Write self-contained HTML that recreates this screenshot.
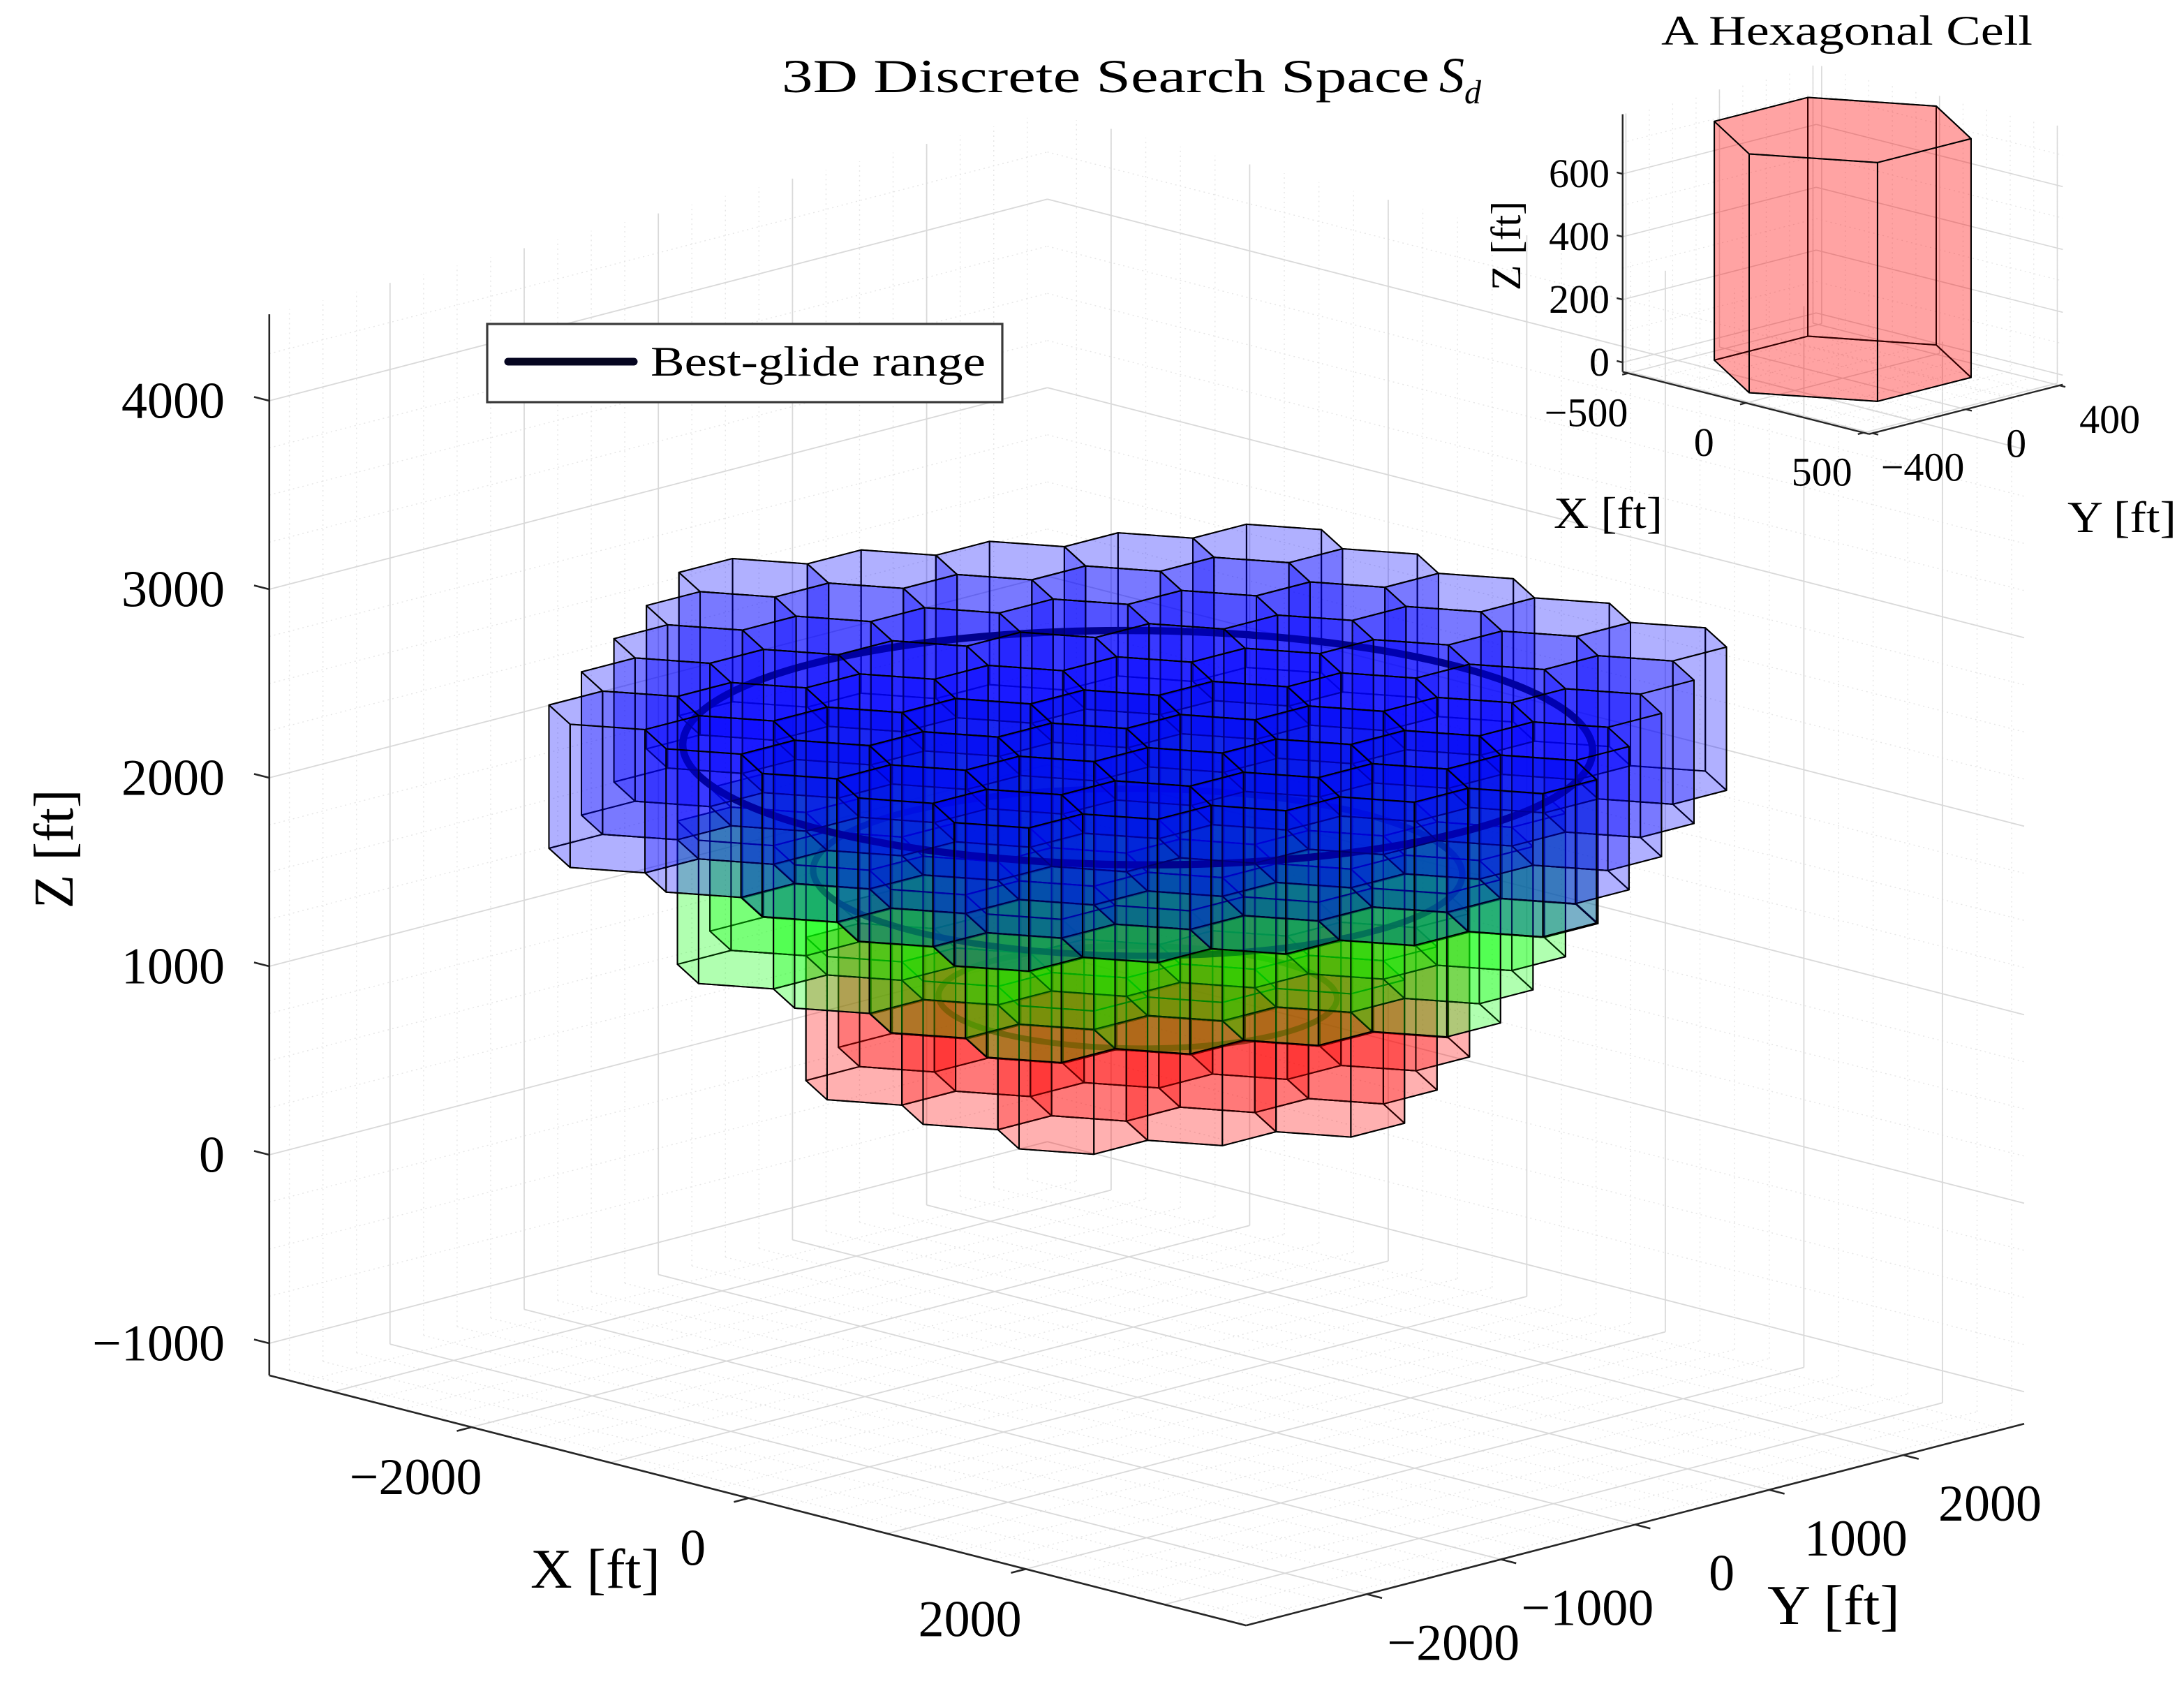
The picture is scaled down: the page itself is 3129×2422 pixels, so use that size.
<!DOCTYPE html>
<html><head><meta charset="utf-8"><title>3D Discrete Search Space</title>
<style>
html,body{margin:0;padding:0;background:#fff;}
svg{display:block;font-family:"Liberation Serif","DejaVu Serif",serif;}
</style></head>
<body>
<svg id="fig" xmlns="http://www.w3.org/2000/svg" width="3129" height="2422" viewBox="0 0 1564.5 1211">
  <rect x="0" y="0" width="1564.5" height="1211" fill="#fff"/>
  <g id="mainGrid"></g>
  <g id="mainCells"></g>
  <g id="mainAxes"></g>
  <g id="insetGrid"></g>
  <g id="insetCell"></g>
  <g id="insetAxes"></g>

  <text x="560" y="66" font-size="34" textLength="464" lengthAdjust="spacingAndGlyphs">3D Discrete Search Space</text>
  <text x="1031" y="66" font-size="36" font-style="italic">S<tspan font-size="24" dy="8">d</tspan></text>

  <text x="1323" y="32" font-size="30" text-anchor="middle" textLength="266" lengthAdjust="spacingAndGlyphs">A Hexagonal Cell</text>

  <g>
    <rect x="349" y="232" width="369" height="56" fill="#fff" stroke="#3a3a3a" stroke-width="1.6"/>
    <line x1="364" y1="259" x2="454" y2="259" stroke="#050520" stroke-width="5.5" stroke-linecap="round"/>
    <text x="466" y="269" font-size="30" textLength="240" lengthAdjust="spacingAndGlyphs">Best-glide range</text>
  </g>

  <text x="380" y="1137" font-size="40" textLength="93" lengthAdjust="spacingAndGlyphs">X [ft]</text>
  <text x="1266" y="1163" font-size="40" textLength="95" lengthAdjust="spacingAndGlyphs">Y [ft]</text>
  <text x="0" y="0" font-size="40" text-anchor="middle" transform="translate(52,608) rotate(-90)">Z [ft]</text>

  <text x="1113" y="378" font-size="32" textLength="78" lengthAdjust="spacingAndGlyphs">X [ft]</text>
  <text x="1481" y="381" font-size="32" textLength="78" lengthAdjust="spacingAndGlyphs">Y [ft]</text>
  <text x="0" y="0" font-size="30" text-anchor="middle" transform="translate(1089,176) rotate(-90)">Z [ft]</text>
</svg>
<script>
// ---------- data ----------
const layerBases = [573, 1235, 1896];          // z of layer bottoms [ft]
const layerRings = [2, 3, 4];                   // hex rings per layer
const layerHeight = 760;                        // cell height [ft]
const layerColors = ['#ff0000', '#00ff00', '#0000ff'];
const circleZ = [953, 1615, 2276];              // best-glide circle altitudes
const circleR = [1033, 1683, 2359];             // best-glide circle radii
const hexR = 400;
const xTicks = [-2000, 0, 2000];
const yTicks = [-2000, -1000, 0, 1000, 2000];
const zTicks = [-1000, 0, 1000, 2000, 3000, 4000];
const xTickLabels = ['\u22122000', '0', '2000'];
const yTickLabels = ['\u22122000', '\u22121000', '0', '1000', '2000'];
const zTickLabels = ['\u22121000', '0', '1000', '2000', '3000', '4000'];
const insetXTicks = [-500, 0, 500];
const insetYTicks = [-400, 0, 400];
const insetZTicks = [0, 200, 400, 600];
const insetXTickLabels = ['\u2212500', '0', '500'];
const insetYTickLabels = ['\u2212400', '0', '400'];
const insetZTickLabels = ['0', '200', '400', '600'];
const faceAlpha = 0.17;

// ---------- projections ----------
const NS = 'http://www.w3.org/2000/svg';
const XR = [-3460, 3590], YR = [-2900, 2900], ZR = [-1170, 4459];
function P(x, y, z) { return [815 + 0.09925 * x + 0.0961 * y, 842.7 + 0.0254 * x - 0.0249 * y - 0.135 * z]; }
const IXR = [-523, 523], IYR = [-414, 414], IZR = [-30, 790];
function P2(x, y, z) { return [1320 + 0.1688 * x + 0.1675 * y, 264.1 + 0.0426 * x - 0.0428 * y - 0.225 * z]; }

function mk(tag, attrs, parent) {
  const e = document.createElementNS(NS, tag);
  for (const k in attrs) e.setAttribute(k, attrs[k]);
  parent.appendChild(e);
  return e;
}
function line(par, a, b, stroke, w, dash, name) {
  const e = mk('line', {x1: a[0], y1: a[1], x2: b[0], y2: b[1], stroke: stroke, 'stroke-width': w}, par);
  if (dash) e.setAttribute('stroke-dasharray', dash);
  
  
  return e;
}
function ptsStr(pts) { return pts.map(p => p[0].toFixed(2) + ',' + p[1].toFixed(2)).join(' '); }

// ---------- grid (back walls + floor) ----------
function drawGrid(par, proj, xr, yr, zr, majX, majY, majZ, minStep, majColor, w) {
  const steps = [[minStep, '#e6e6e6', '1 2.5', w * 0.8, 'minor-grid-line'], [null, majColor, null, w, 'major-grid-line']];
  for (const [st, col, dash, lw, nm] of steps) {
    const xs = st ? rangeVals(xr, st) : majX, ys = st ? rangeVals(yr, st) : majY, zs = st ? rangeVals(zr, st) : majZ;
    for (const x of xs) {
      line(par, proj(x, yr[0], zr[0]), proj(x, yr[1], zr[0]), col, lw, dash, nm);
      line(par, proj(x, yr[1], zr[0]), proj(x, yr[1], zr[1]), col, lw, dash, nm);
    }
    for (const y of ys) {
      line(par, proj(xr[0], y, zr[0]), proj(xr[1], y, zr[0]), col, lw, dash, nm);
      line(par, proj(xr[0], y, zr[0]), proj(xr[0], y, zr[1]), col, lw, dash, nm);
    }
    for (const z of zs) {
      line(par, proj(xr[0], yr[0], z), proj(xr[0], yr[1], z), col, lw, dash, nm);
      line(par, proj(xr[0], yr[1], z), proj(xr[1], yr[1], z), col, lw, dash, nm);
    }
  }
}
function rangeVals(r, st) { const out = []; for (let v = Math.ceil(r[0] / st) * st; v <= r[1]; v += st) out.push(v); return out; }

drawGrid(document.getElementById('mainGrid'), P, XR, YR, ZR, rangeVals(XR, 1000), yTicks, zTicks, 250, '#d9d9d9', 0.9);
drawGrid(document.getElementById('insetGrid'), P2, IXR, IYR, IZR, insetXTicks, insetYTicks, insetZTicks, 100, '#d9d9d9', 0.8);

// ---------- hexagonal prisms ----------
const viewDir = (function () { const a = 0.0254, b = -0.0249, n = Math.hypot(a, b); return [a / n, b / n]; })();
function hexVerts(cx, cy) {
  const v = [];
  for (let k = 0; k < 6; k++) { const a = (30 + 60 * k) * Math.PI / 180; v.push([cx + hexR * Math.cos(a), cy + hexR * Math.sin(a)]); }
  return v;
}
function faceSplit(proj, cx, cy, z0, z1) {
  const v = hexVerts(cx, cy), back = [], front = [];
  for (let k = 0; k < 6; k++) {
    const a = (60 + 60 * k) * Math.PI / 180;
    const dot = Math.cos(a) * viewDir[0] + Math.sin(a) * viewDir[1];
    const p = v[k], q = v[(k + 1) % 6];
    const quad = [proj(p[0], p[1], z0), proj(q[0], q[1], z0), proj(q[0], q[1], z1), proj(p[0], p[1], z1)];
    (dot > 0 ? front : back).push(quad);
  }
  return {bottom: v.map(p => proj(p[0], p[1], z0)), top: v.map(p => proj(p[0], p[1], z1)), back: back, front: front};
}
function poly(par, pts, fill, alpha, name, sw) {
  const e = mk('polygon', {points: ptsStr(pts), fill: fill, 'fill-opacity': alpha, stroke: '#000', 'stroke-width': sw, 'stroke-linejoin': 'round'}, par);
  
  
  return e;
}
function drawCircle(par, z, r, color, w, op, name) {
  const pts = [];
  for (let i = 0; i <= 180; i++) { const t = i / 180 * 2 * Math.PI; pts.push(P(r * Math.cos(t), r * Math.sin(t), z)); }
  const e = mk('polyline', {points: ptsStr(pts), fill: 'none', stroke: color, 'stroke-width': w, 'stroke-opacity': op, 'stroke-linejoin': 'round'}, par);
  
  
}
const cellsG = document.getElementById('mainCells');
const circleColors = ['#1c3a0c', '#06082a', '#04043a'];
const circleOp = [0.75, 0.85, 1];
const circleW = [4.2, 4.6, 5.2];
for (let L = 0; L < layerBases.length; L++) {
  const n = layerRings[L], z0 = layerBases[L], z1 = z0 + layerHeight;
  const cells = [];
  for (let q = -n; q <= n; q++) for (let r = -n; r <= n; r++) {
    if (Math.abs(q + r) > n) continue;
    const cx = Math.sqrt(3) * hexR * (q + r / 2), cy = 1.5 * hexR * r;
    cells.push([cx, cy]);
  }
  cells.sort((a, b) => (0.0254 * a[0] - 0.0249 * a[1]) - (0.0254 * b[0] - 0.0249 * b[1]));
  const g = mk('g', {}, cellsG);
  
  
  const faces = cells.map(c => faceSplit(P, c[0], c[1], z0, z1));
  for (const f of faces) {
    poly(g, f.bottom, layerColors[L], faceAlpha, 'cell-bottom-face', 1);
    for (const b of f.back) poly(g, b, layerColors[L], faceAlpha, 'cell-side-face', 1);
  }
  drawCircle(g, circleZ[L], circleR[L], circleColors[L], circleW[L], circleOp[L], 'best-glide-circle-' + (L + 1));
  for (const f of faces) {
    for (const b of f.front) poly(g, b, layerColors[L], faceAlpha, 'cell-side-face', 1);
    poly(g, f.top, layerColors[L], faceAlpha, 'cell-top-face', 1);
  }
}

// inset cell
(function () {
  const g = document.getElementById('insetCell');
  const f = faceSplit(P2, 0, 0, 0, 760);
  poly(g, f.bottom, '#ff0000', 0.2, 'inset-cell-bottom', 1);
  for (const b of f.back) poly(g, b, '#ff0000', 0.2, 'inset-cell-side', 1);
  for (const b of f.front) poly(g, b, '#ff0000', 0.2, 'inset-cell-side', 1);
  poly(g, f.top, '#ff0000', 0.2, 'inset-cell-top', 1);
})();

// ---------- axes ----------
function text(par, x, y, s, size, anchor, name) {
  const e = mk('text', {x: x, y: y, 'font-size': size, 'text-anchor': anchor}, par);
  e.textContent = s;
  
  
}
function drawAxes(par, proj, xr, yr, zr, xt, yt, zt, xl, yl, zl, o) {
  line(par, proj(xr[0], yr[0], zr[0]), proj(xr[0], yr[0], zr[1]), '#262626', o.w, null, 'z-axis-line');
  line(par, proj(xr[0], yr[0], zr[0]), proj(xr[1], yr[0], zr[0]), '#262626', o.w, null, 'x-axis-line');
  line(par, proj(xr[1], yr[0], zr[0]), proj(xr[1], yr[1], zr[0]), '#262626', o.w, null, 'y-axis-line');
  for (let i = 0; i < zt.length; i++) {
    const a = proj(xr[0], yr[0], zt[i]), b = proj(xr[0] - o.tk, yr[0], zt[i]);
    line(par, a, b, '#262626', o.w, null, 'z-tick');
    text(par, o.zx, a[1] + o.fs * 0.33, zl[i], o.fs, 'end', 'z-tick-label');
  }
  for (let i = 0; i < xt.length; i++) {
    const a = proj(xt[i], yr[0], zr[0]), b = proj(xt[i], yr[0] - o.tk, zr[0]);
    line(par, a, b, '#262626', o.w, null, 'x-tick');
    text(par, a[0] + o.xo[0], a[1] + o.xo[1], xl[i], o.fs, 'middle', 'x-tick-label');
  }
  for (let i = 0; i < yt.length; i++) {
    const a = proj(xr[1], yt[i], zr[0]), b = proj(xr[1] + o.tk, yt[i], zr[0]);
    line(par, a, b, '#262626', o.w, null, 'y-tick');
    text(par, a[0] + o.yo[0], a[1] + o.yo[1], yl[i], o.fs, 'middle', 'y-tick-label');
  }
}
drawAxes(document.getElementById('mainAxes'), P, XR, YR, ZR, xTicks, yTicks, zTicks, xTickLabels, yTickLabels, zTickLabels,
  {w: 1.3, tk: 110, fs: 37, zx: 161, xo: [-40, 48], yo: [62, 47]});
drawAxes(document.getElementById('insetAxes'), P2, IXR, IYR, IZR, insetXTicks, insetYTicks, insetZTicks, insetXTickLabels, insetYTickLabels, insetZTickLabels,
  {w: 1.2, tk: 25, fs: 29, zx: 1153, xo: [-30, 38], yo: [36, 34]});
</script>
</body></html>
